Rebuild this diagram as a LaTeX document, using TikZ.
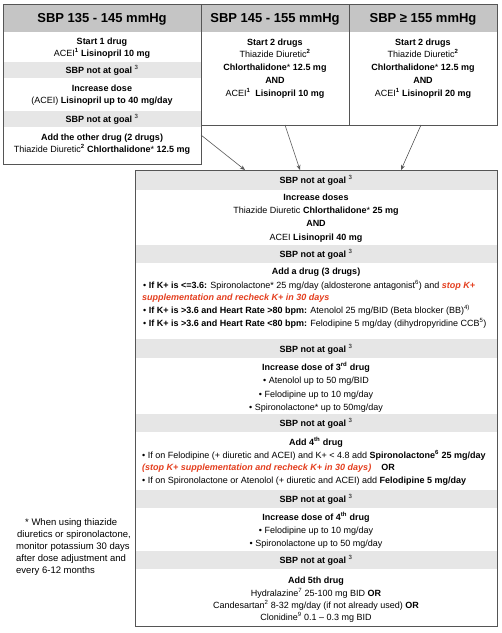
\documentclass[tikz,border=0pt]{standalone}
\usepackage{fontspec}
\setmainfont{Liberation Sans}
\usetikzlibrary{arrows.meta}
\definecolor{hdrgray}{RGB}{197,197,197}
\definecolor{bandgray}{RGB}{230,230,230}
\definecolor{bordergray}{RGB}{85,85,85}
\definecolor{alertred}{RGB}{228,62,30}
\tikzset{
 txt/.style={inner sep=0pt, anchor=base, font=\fontsize{9}{11}\selectfont},
 txtl/.style={txt, anchor=base west},
 note/.style={inner sep=0pt, anchor=base west, font=\fontsize{9.5}{11}\selectfont},
 hdr/.style={inner sep=0pt, anchor=base, font=\fontsize{13}{15}\selectfont\bfseries},
 boxframe/.style={draw=bordergray, line width=0.9pt, inner sep=0pt, anchor=north west},
 conn/.style={draw=bordergray, line width=0.6pt, -{Stealth[length=5pt,width=4pt]}},
 band/.style={fill=bandgray},
 hband/.style={fill=hdrgray},
}
\newcommand{\sTL}[4]{\node[txt] (#1) at (#2,#3+3.3) {#4};}
\newcommand{\sTLl}[4]{\node[txtl] (#1) at (#2,#3+3.3) {#4};}
\newcommand{\spx}[1]{\textsuperscript{#1}}
\newcommand{\redt}[1]{\textcolor{alertred}{\bfseries\itshape #1}}
\begin{document}
\begin{tikzpicture}[x=1pt,y=-1pt]
\useasboundingbox[fill=white] (0,0) rectangle (502,633);
% ---- bands
\fill[hband] (3,4) rectangle (201,32);
\fill[hband] (201,4) rectangle (349,32);
\fill[hband] (349,4) rectangle (497,32);
\fill[band] (3,62) rectangle (201,78);
\fill[band] (3,111) rectangle (201,127);
\fill[band] (135,170) rectangle (497,190);
\fill[band] (135,245) rectangle (497,263);
\fill[band] (135,339) rectangle (497,358);
\fill[band] (135,414) rectangle (497,432);
\fill[band] (135,490) rectangle (497,508);
\fill[band] (135,551) rectangle (497,569);
% ---- frames
\node[boxframe, minimum width=198pt, minimum height=160pt] (leftbox) at (3,4) {};
\node[boxframe, minimum width=148pt, minimum height=121pt] (midbox) at (201,4) {};
\node[boxframe, minimum width=148pt, minimum height=121pt] (rightbox) at (349,4) {};
\node[boxframe, minimum width=362pt, minimum height=456pt] (bigbox) at (135,170) {};
% ---- headers
\node[hdr] (h1) at (102,22.5) {SBP 135 - 145 mmHg};
\node[hdr] (h2) at (275,22.5) {SBP 145 - 155 mmHg};
\node[hdr] (h3) at (423,22.5) {SBP ≥ 155 mmHg};
% ---- left box
\sTL{l1}{102}{41}{\bfseries Start 1 drug}
\sTL{l2}{102}{53}{ACEI\spx{\bfseries 1} \textbf{Lisinopril 10 mg}}
\sTL{l3}{102}{70}{\textbf{SBP not at goal} \spx{3}}
\sTL{l4}{102}{88}{\bfseries Increase dose}
\sTL{l5}{102}{100}{(ACEI) \textbf{Lisinopril up to 40 mg/day}}
\sTL{l6}{102}{119}{\textbf{SBP not at goal} \spx{3}}
\sTL{l7}{102}{137}{\bfseries Add the other drug (2 drugs)}
\sTL{l8}{102}{149}{Thiazide Diuretic\spx{\bfseries 2} \textbf{Chlorthalidone}* \textbf{12.5 mg}}
% ---- middle box
\sTL{m1}{275}{42}{\bfseries Start 2 drugs}
\sTL{m2}{275}{54}{Thiazide Diuretic\spx{\bfseries 2}}
\sTL{m3}{275}{67}{\textbf{Chlorthalidone}* \textbf{12.5 mg}}
\sTL{m4}{275}{80}{\bfseries AND}
\sTL{m5}{275}{93}{ACEI\spx{\bfseries 1}\ \ \textbf{Lisinopril 10 mg}}
% ---- right box
\sTL{r1}{423}{42}{\bfseries Start 2 drugs}
\sTL{r2}{423}{54}{Thiazide Diuretic\spx{\bfseries 2}}
\sTL{r3}{423}{67}{\textbf{Chlorthalidone}* \textbf{12.5 mg}}
\sTL{r4}{423}{80}{\bfseries AND}
\sTL{r5}{423}{93}{ACEI\spx{\bfseries 1} \textbf{Lisinopril 20 mg}}
% ---- big box
\sTL{b1}{316}{180}{\textbf{SBP not at goal} \spx{3}}
\sTL{b2}{316}{197}{\bfseries Increase doses}
\sTL{b3}{316}{210}{Thiazide Diuretic \textbf{Chlorthalidone}* \textbf{25 mg}}
\sTL{b4}{316}{223}{\bfseries AND}
\sTL{b5}{316}{237}{ACEI \textbf{Lisinopril 40 mg}}
\sTL{b6}{316}{254}{\textbf{SBP not at goal} \spx{3}}
\sTL{b7}{316}{271}{\bfseries Add a drug (3 drugs)}
\sTLl{b8}{143}{285}{• \textbf{If K+ is <=3.6:} Spironolactone* 25 mg/day (aldosterone antagonist\spx{6}) and \redt{stop K+}}
\sTLl{b9}{142}{297}{\redt{supplementation and recheck K+ in 30 days}}
\sTLl{b10}{143}{310}{• \textbf{If K+ is >3.6 and Heart Rate >80 bpm:} Atenolol 25 mg/BID (Beta blocker (BB)\spx{4)}}
\sTLl{b11}{143}{323}{• \textbf{If K+ is >3.6 and Heart Rate <80 bpm:} Felodipine 5 mg/day (dihydropyridine CCB\spx{5})}
\sTL{b12}{316}{349}{\textbf{SBP not at goal} \spx{3}}
\sTL{b13}{316}{367}{\textbf{Increase dose of 3\spx{rd} drug}}
\sTL{b14}{316}{380}{• Atenolol up to 50 mg/BID}
\sTL{b15}{316}{394}{• Felodipine up to 10 mg/day}
\sTL{b16}{316}{407}{• Spironolactone* up to 50mg/day}
\sTL{b17}{316}{423}{\textbf{SBP not at goal} \spx{3}}
\sTL{b18}{316}{442}{\textbf{Add 4\spx{th} drug}}
\sTLl{b19}{142}{455}{• If on Felodipine (+ diuretic and ACEI) and K+ < 4.8 add \textbf{Spironolactone\spx{6} 25 mg/day}}
\sTLl{b20}{142}{467}{\redt{(stop K+ supplementation and recheck K+ in 30 days)}\hspace{10pt}\textbf{OR}}
\sTLl{b21}{142}{480}{• If on Spironolactone or Atenolol (+ diuretic and ACEI) add \textbf{Felodipine 5 mg/day}}
\sTL{b22}{316}{499}{\textbf{SBP not at goal} \spx{3}}
\sTL{b23}{316}{517}{\textbf{Increase dose of 4\spx{th} drug}}
\sTL{b24}{316}{530}{• Felodipine up to 10 mg/day}
\sTL{b25}{316}{543}{• Spironolactone up to 50 mg/day}
\sTL{b26}{316}{560}{\textbf{SBP not at goal} \spx{3}}
\sTL{b27}{316}{580}{\bfseries Add 5th drug}
\sTL{b28}{316}{593}{Hydralazine\spx{7} 25-100 mg BID \textbf{OR}}
\sTL{b29}{316}{605}{Candesartan\spx{2} 8-32 mg/day (if not already used) \textbf{OR}}
\sTL{b30}{316}{617}{Clonidine\spx{9} 0.1 – 0.3 mg BID}
% ---- footnote
\node[note] (f1) at (25,525.5) {* When using thiazide};
\node[note] (f2) at (17,537.5) {diuretics or spironolactone,};
\node[note] (f3) at (16,549.5) {monitor potassium 30 days};
\node[note] (f4) at (16,561.5) {after dose adjustment and};
\node[note] (f5) at (16,573.5) {every 6-12 months};
% ---- connectors
\coordinate (a1s) at (201,135);
\coordinate (a1e) at (245,170);
\coordinate (a2s) at (285,125);
\coordinate (a2e) at (300,170);
\coordinate (a3s) at (421,125);
\coordinate (a3e) at (401,170);
\draw[conn] (a1s) -- (a1e);
\draw[conn] (a2s) -- (a2e);
\draw[conn] (a3s) -- (a3e);
\end{tikzpicture}
\end{document}
